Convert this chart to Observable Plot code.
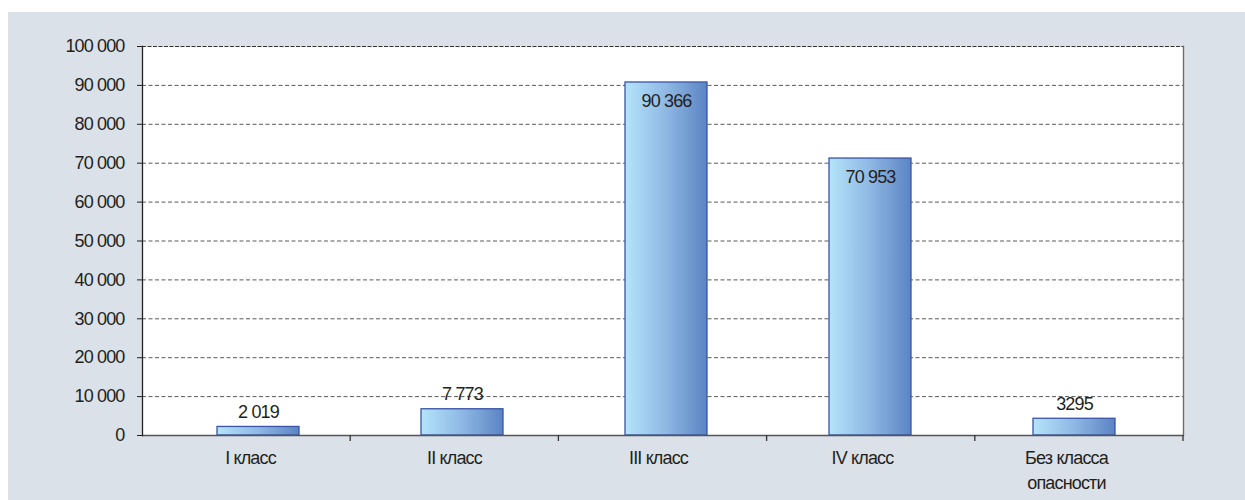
<!DOCTYPE html>
<html>
<head>
<meta charset="utf-8">
<script src="https://cdn.jsdelivr.net/npm/d3@7"></script>
<script src="https://cdn.jsdelivr.net/npm/@observablehq/plot@0.6"></script>
<style>
  html, body { margin: 0; padding: 0; background: #ffffff; }
  #panel { position: absolute; left: 8px; top: 12px; width: 1237px; height: 488px; background: #dae1e8; }
  #panel svg text { letter-spacing: -0.85px; }
</style>
</head>
<body>
<div id="panel"></div>
<script>
// ---- data ----
const categories = ["I класс", "II класс", "III класс", "IV класс", "Без класса\nопасности"];
const barValues = [2200, 6750, 90750, 71200, 4300];          // bar heights as drawn
const valueLabels = ["2 019", "7 773", "90 366", "70 953", "3295"]; // printed labels
const yTicks = [0, 10000, 20000, 30000, 40000, 50000, 60000, 70000, 80000, 90000, 100000];

const data = categories.map((c, i) => ({category: c, value: barValues[i], label: valueLabels[i]}));
const fmt = d3.formatLocale({decimal: ",", thousands: " ", grouping: [3], currency: ["", ""]}).format(",d");

const font = "'Liberation Sans', Arial, sans-serif";
const ink = "#231f20";

const W = 1237, H = 488, mL = 134, mT = 34, mR = 62, mB = 65;

const chart = Plot.plot({
  width: W,
  height: H,
  marginLeft: mL,
  marginTop: mT,
  marginRight: mR,
  marginBottom: mB,
  style: {background: "transparent", fontFamily: font, fontSize: "18px", color: ink},
  x: {domain: categories, range: [148.1, 1168.3], paddingInner: 0.598, paddingOuter: 0.299, label: null},
  y: {domain: [0, 100000], label: null},
  marks: [
    Plot.frame({fill: "white", stroke: null}),
    Plot.gridY(yTicks.filter(t => t > 0 && t < 100000), {stroke: "#5a5a5a", strokeOpacity: 1, strokeDasharray: "4,2.5"}),
    Plot.gridY([100000], {stroke: "#333", strokeOpacity: 1, strokeDasharray: "4,1.5", strokeWidth: 1.2}),
    Plot.frame({anchor: "right", stroke: "#6d6d6d", strokeWidth: 1.4}),
    Plot.barY(data, {x: "category", y: "value", fill: "url(#barGrad)", stroke: "#3a55a5", strokeWidth: 1.3}),
    Plot.ruleY([0], {stroke: "#555", strokeWidth: 1.3}),
    Plot.axisY({ticks: yTicks, tickFormat: fmt, tickSize: 5, tickPadding: 13, stroke: "#222", fill: ink, label: null}),
    Plot.frame({anchor: "left", stroke: "#222", strokeWidth: 1.3}),
    Plot.axisX({tickSize: 0, tickPadding: 10, dx: -8, lineHeight: 1.42, fill: ink, label: null}),
    Plot.text(data.filter(d => d.value < 50000), {x: "category", y: "value", text: "label", dy: -15, fill: ink, lineAnchor: "middle"}),
    Plot.text(data.filter(d => d.value >= 50000), {x: "category", y: "value", text: "label", dy: 19, fill: ink, lineAnchor: "middle"})
  ]
});

// gradient for the bars
const svg = d3.select(chart);
const defs = svg.insert("defs", ":first-child");
const g = defs.append("linearGradient").attr("id", "barGrad").attr("x1", 0).attr("x2", 1).attr("y1", 0).attr("y2", 0);
g.append("stop").attr("offset", "0%").attr("stop-color", "#b4e4fa");
g.append("stop").attr("offset", "50%").attr("stop-color", "#8fb8e4");
g.append("stop").attr("offset", "100%").attr("stop-color", "#5b84c4");

// category boundary ticks along the x axis (equal divisions of the plot frame)
const ys = chart.scale("y");
const y0 = ys.apply(0);
const plotW = W - mL - mR;
const tg = svg.append("g").attr("stroke", "#333").attr("stroke-width", 1.3);
categories.forEach((c, i) => {
  const xb = mL + (i + 1) * plotW / categories.length;
  tg.append("line").attr("x1", xb).attr("x2", xb).attr("y1", y0).attr("y2", y0 + 6);
});

document.getElementById("panel").appendChild(chart);
</script>
</body>
</html>
